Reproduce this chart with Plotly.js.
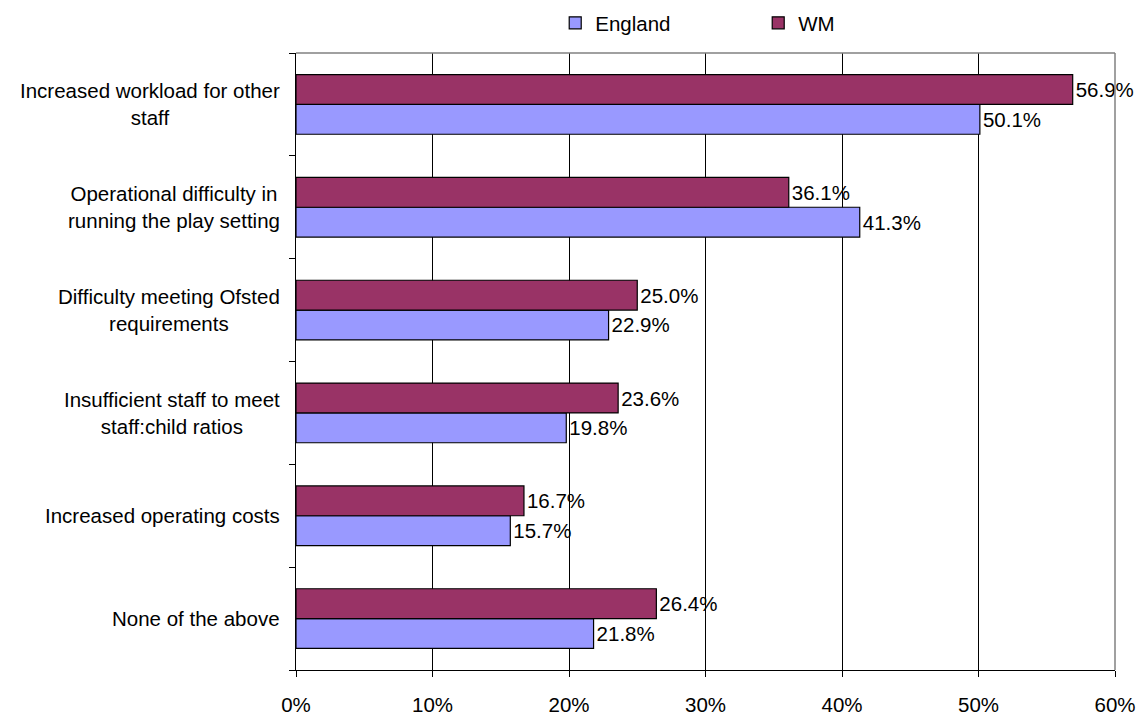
<!DOCTYPE html>
<html>
<head>
<meta charset="utf-8">
<script src="https://cdn.plot.ly/plotly-3.0.1.min.js"></script>
<style>html,body{margin:0;padding:0;background:#fff;}#chart{width:1148px;height:718px;}</style>
</head>
<body>
<div id="chart"></div>
<script>
// Categories listed top-to-bottom as shown
const categories = [
  "Increased workload for other<br>staff",
  "Operational difficulty in<br>running the play setting",
  "Difficulty meeting Ofsted<br>requirements",
  "Insufficient staff to meet<br>staff:child ratios",
  "Increased operating costs",
  "None of the above"
];
const englandValues = [50.1, 41.3, 22.9, 19.8, 15.7, 21.8];
const wmValues = [56.9, 36.1, 25.0, 23.6, 16.7, 26.4];
const xTickValues = [0, 10, 20, 30, 40, 50, 60];
const xTickLabels = ["0%", "10%", "20%", "30%", "40%", "50%", "60%"];

const FONT = "Liberation Sans, Arial, sans-serif";
const FS = 20.5;

const traces = [
  {
    type: "bar", orientation: "h", name: "England",
    y: categories, x: englandValues,
    marker: {color: "#9999FF", line: {color: "#000000", width: 1.2}},
    texttemplate: "%{x:.1f}%", textposition: "outside",
    textfont: {family: FONT, size: FS, color: "#000"},
    constraintext: "none", cliponaxis: false, hoverinfo: "x+name"
  },
  {
    type: "bar", orientation: "h", name: "WM",
    y: categories, x: wmValues,
    marker: {color: "#993366", line: {color: "#000000", width: 1.2}},
    texttemplate: "%{x:.1f}%", textposition: "outside",
    textfont: {family: FONT, size: FS, color: "#000"},
    constraintext: "none", cliponaxis: false, hoverinfo: "x+name"
  }
];

const annotations = categories.map(c => ({
  xref: "paper", yref: "y", x: 0, y: c, xanchor: "right", yanchor: "middle",
  xshift: -14, text: c, showarrow: false, align: "center",
  font: {family: FONT, size: FS, color: "#000"}
}));

const layout = {
  width: 1148, height: 718,
  margin: {l: 296, r: 33, t: 53, b: 48},
  paper_bgcolor: "#fff", plot_bgcolor: "#fff",
  font: {family: FONT, size: FS, color: "#000"},
  barmode: "group", bargap: 0.42, bargroupgap: 0,
  showlegend: true,
  legend: {
    orientation: "h", x: 0.3165, xanchor: "left",
    yref: "container", y: 1 - 23 / 718, yanchor: "middle",
    entrywidth: 158, font: {family: FONT, size: FS, color: "#000"},
    itemwidth: 30, traceorder: "normal"
  },
  xaxis: {
    range: [0, 60], tickvals: xTickValues, ticktext: xTickLabels,
    showgrid: true, gridcolor: "#000", gridwidth: 1,
    showline: true, linecolor: "#000", linewidth: 1,
    ticks: "outside", ticklen: 6, tickcolor: "#000",
    ticklabelstandoff: 10,
    zeroline: false, fixedrange: true,
    tickfont: {family: FONT, size: FS, color: "#000"}
  },
  yaxis: {
    type: "category", categoryorder: "array", categoryarray: categories.slice().reverse(),
    showticklabels: false, showgrid: false,
    showline: true, linecolor: "#000", linewidth: 1,
    ticks: "outside", ticklen: 6, tickcolor: "#000", tickson: "boundaries",
    zeroline: false, fixedrange: true
  },
  shapes: [
    {type: "line", xref: "paper", yref: "paper", x0: 0, x1: 1, y0: 1, y1: 1, line: {color: "#808080", width: 1.5}},
    {type: "line", xref: "paper", yref: "paper", x0: 1, x1: 1, y0: 0, y1: 1, line: {color: "#808080", width: 1.5}}
  ],
  annotations: annotations
};

Plotly.newPlot("chart", traces, layout, {displayModeBar: false, staticPlot: true});
</script>
</body>
</html>
